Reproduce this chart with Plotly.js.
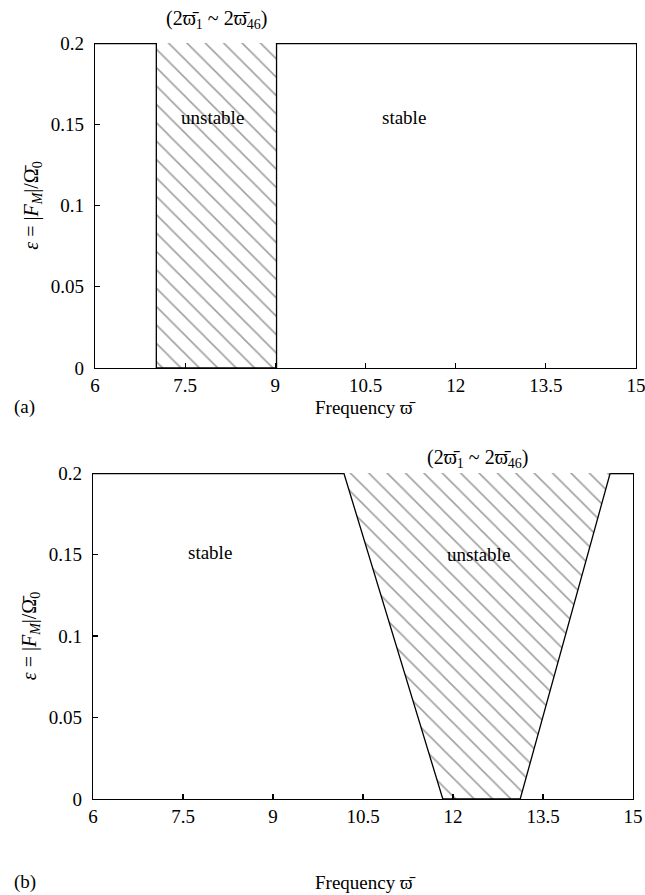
<!DOCTYPE html>
<html>
<head>
<meta charset="utf-8">
<script src="https://cdn.plot.ly/plotly-3.0.1.min.js"></script>
<style>html,body{margin:0;padding:0;background:#fff;}#chart{width:645px;height:895px;}</style>
</head>
<body>
<div id="chart"></div>
<script>
// ---- data ----
const xRange = [6, 15];
const yRange = [0, 0.2];
const xTicks = [6, 7.5, 9, 10.5, 12, 13.5, 15];
const xTickText = ['6', '7.5', '9', '10.5', '12', '13.5', '15'];
const yTicks = [0, 0.05, 0.1, 0.15, 0.2];
const yTickText = ['0', '0.05', '0.1', '0.15', '0.2'];
// unstable region (a): boundary omega at eps = 0.2, 0, 0, 0.2
const bandA_x = [7.02, 7.02, 9.02, 9.02];
const bandA_y = [0.2, 0, 0, 0.2];
// unstable region (b)
const bandB_x = [10.18, 11.83, 13.12, 14.62];
const bandB_y = [0.2, 0, 0, 0.2];
const rangeLabel = '(2ϖ̄<sub>1</sub> ~ 2ϖ̄<sub>46</sub>)';
const xTitle = 'Frequency ϖ̄';
const yTitle = '<i>ε</i> = |<i>F<sub>M</sub></i>|/Ω̄<sub>0</sub>';

const FONT = '"Liberation Serif", "Times New Roman", serif';
const hatch = {shape: '\\', size: 13, solidity: 0.12, fgcolor: '#a0a0a0', bgcolor: '#ffffff', fillmode: 'replace'};

function band(xs, ys, xa, ya) {
  return {x: xs, y: ys, xaxis: xa, yaxis: ya, type: 'scatter', mode: 'lines', fill: 'toself',
    fillcolor: '#ffffff', fillpattern: hatch, line: {color: '#000', width: 1.3}, hoverinfo: 'skip', showlegend: false};
}
function topBorder(xs, xa, ya) {
  const left = Math.min(...xs), right = Math.max(...xs);
  return [
    {x: [xRange[0], left], y: [yRange[1], yRange[1]], xaxis: xa, yaxis: ya, type: 'scatter', mode: 'lines', line: {color: '#000', width: 2.6}, showlegend: false, hoverinfo: 'skip'},
    {x: [right, xRange[1]], y: [yRange[1], yRange[1]], xaxis: xa, yaxis: ya, type: 'scatter', mode: 'lines', line: {color: '#000', width: 2.6}, showlegend: false, hoverinfo: 'skip'}
  ];
}

const traces = [
  band(bandA_x, bandA_y, 'x', 'y'),
  ...topBorder(bandA_x, 'x', 'y'),
  band(bandB_x, bandB_y, 'x2', 'y2'),
  ...topBorder(bandB_x, 'x2', 'y2')
];

function xax(domain, anchor) {
  return {domain: domain, anchor: anchor, range: xRange, tickmode: 'array', tickvals: xTicks, ticktext: xTickText,
    ticks: 'inside', ticklen: 5, tickcolor: '#000', tickwidth: 1.2, showline: true, linecolor: '#000', linewidth: 1.3,
    showgrid: false, zeroline: false, ticklabelstandoff: 0, ticklabeloverflow: 'allow',
    tickfont: {family: FONT, size: 19, color: '#000'}};
}
function yax(domain, anchor) {
  return {domain: domain, anchor: anchor, range: yRange, tickmode: 'array', tickvals: yTicks, ticktext: yTickText,
    ticks: 'inside', ticklen: 5, tickcolor: '#000', tickwidth: 1.2, showline: true, mirror: true, linecolor: '#000', linewidth: 1.3,
    showgrid: false, zeroline: false, ticklabelstandoff: 6, ticklabeloverflow: 'allow',
    tickfont: {family: FONT, size: 19, color: '#000'},
    title: {text: yTitle, font: {family: FONT, size: 20, color: '#000'}, standoff: 6}};
}

const txt = {family: FONT, size: 19, color: '#000'};
const layout = {
  width: 645, height: 895,
  margin: {l: 93, r: 9, t: 43, b: 96},
  paper_bgcolor: '#fff', plot_bgcolor: '#fff',
  showlegend: false,
  xaxis: xax([0.0037, 1], 'y'),
  yaxis: yax([0.5701, 1], 'x'),
  xaxis2: xax([0, 0.9945], 'y2'),
  yaxis2: yax([0, 0.4312], 'x2'),
  annotations: [
    {xref: 'x', yref: 'y', x: (bandA_x[1] + bandA_x[2]) / 2, y: 0.2, yanchor: 'bottom', yshift: 9, text: rangeLabel, showarrow: false, font: {family: FONT, size: 20, color: '#000'}},
    {xref: 'x', yref: 'y', x: 7.96, y: 0.154, text: 'unstable', showarrow: false, font: txt},
    {xref: 'x', yref: 'y', x: 11.14, y: 0.154, text: 'stable', showarrow: false, font: txt},
    {xref: 'x2', yref: 'y2', x: (bandB_x[0] + bandB_x[3]) / 2, y: 0.2, yanchor: 'bottom', yshift: 0, text: rangeLabel, showarrow: false, font: {family: FONT, size: 20, color: '#000'}},
    {xref: 'x2', yref: 'y2', x: 7.95, y: 0.151, text: 'stable', showarrow: false, font: txt},
    {xref: 'x2', yref: 'y2', x: 12.42, y: 0.150, text: 'unstable', showarrow: false, font: txt},
    {xref: 'paper', yref: 'paper', x: 0.501, y: 0.5185, xanchor: 'center', yanchor: 'middle', text: xTitle, showarrow: false, font: txt},
    {xref: 'paper', yref: 'paper', x: 0.501, y: -0.1098, xanchor: 'center', yanchor: 'middle', text: xTitle, showarrow: false, font: txt},
    {xref: 'paper', yref: 'paper', x: -0.149, y: 0.5185, xanchor: 'left', yanchor: 'middle', text: '(a)', showarrow: false, font: txt},
    {xref: 'paper', yref: 'paper', x: -0.149, y: -0.1098, xanchor: 'left', yanchor: 'middle', text: '(b)', showarrow: false, font: txt}
  ]
};

Plotly.newPlot('chart', traces, layout, {staticPlot: true, displayModeBar: false});
</script>
</body>
</html>
